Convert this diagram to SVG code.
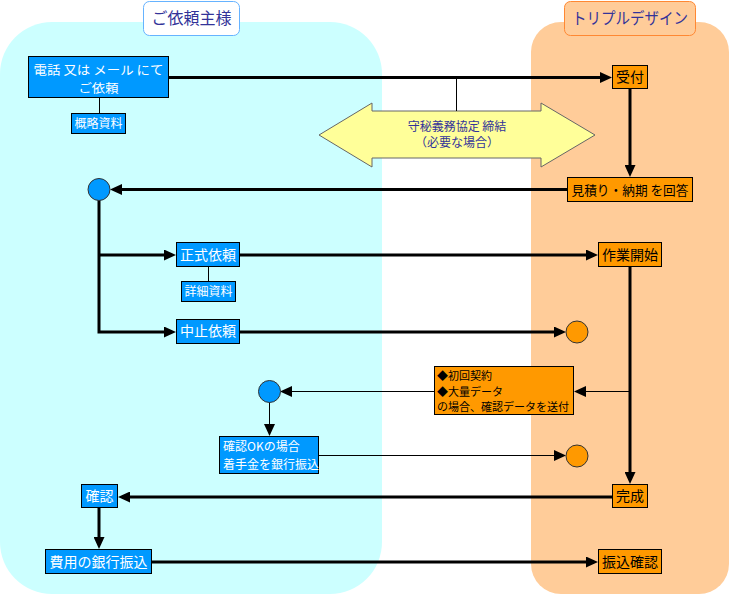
<svg xmlns="http://www.w3.org/2000/svg" width="730" height="596" viewBox="0 0 730 596">
<style>
text{font-family:"Noto Sans CJK JP","Noto Sans CJK SC",sans-serif}
.b{fill:#0099FF;stroke:#000;stroke-width:1}
.o{fill:#FF9900;stroke:#000;stroke-width:1}
.tw{fill:#fff;font-size:14px;text-anchor:middle}
.tws{fill:#fff;font-size:12px;text-anchor:middle}
.tb{fill:#000;font-size:14px;text-anchor:middle}
.th{stroke:#000;stroke-width:3;fill:none}
.tn{stroke:#000;stroke-width:1;fill:none}
.ttl{fill:#333399;font-size:16px;text-anchor:middle}
</style>
<defs>
<marker id="ar" markerUnits="userSpaceOnUse" markerWidth="12" markerHeight="11" refX="8" refY="5.5" orient="auto">
<path d="M0,0 L12,5.5 L0,11 z" fill="#000"/>
</marker>
</defs>
<g id="lane-client">
<rect x="0" y="22" width="382" height="572" rx="52" ry="52" fill="#CCFFFF"/>
<rect x="143.5" y="1.5" width="96" height="34" rx="6" fill="#fff" stroke="#66B3FF" stroke-width="1"/>
<text class="ttl" x="191.5" y="24">ご依頼主様</text>
</g>
<g id="lane-triple">
<rect x="531" y="22" width="198" height="572" rx="30" ry="30" fill="#FFCC99"/>
<rect x="564.5" y="1.5" width="131" height="34" rx="6" fill="#FFCC99" stroke="#FF8833" stroke-width="1"/>
<text class="ttl" x="630" y="24" textLength="116" lengthAdjust="spacingAndGlyphs">トリプルデザイン</text>
</g>
<g id="nda">
<polygon points="319,135 372,103 372,111 541,111 541,103 595,135 541,167 541,158 372,158 372,167" fill="#FFFF99" stroke="#666" stroke-width="1"/>
<text x="457" y="131" font-size="12" fill="#333399" text-anchor="middle">守秘義務協定 締結</text>
<text x="457" y="147" font-size="12" fill="#333399" text-anchor="middle">（必要な場合）</text>
</g>
<g id="connectors">
<path class="th" d="M169,77.5 H608" marker-end="url(#ar)"/>
<path class="tn" d="M456.5,77.5 V111"/>
<path class="tn" d="M99.5,98 V113"/>
<path class="th" d="M630,89 V173" marker-end="url(#ar)"/>
<path class="th" d="M567,189.5 H114" marker-end="url(#ar)"/>
<path class="th" d="M99,200 V332 H172" marker-end="url(#ar)"/>
<path class="th" d="M99,255 H172" marker-end="url(#ar)"/>
<path class="tn" d="M208.5,267 V281"/>
<path class="th" d="M240,255 H594" marker-end="url(#ar)"/>
<path class="th" d="M240,332 H562" marker-end="url(#ar)"/>
<path class="th" d="M630,267 V480" marker-end="url(#ar)"/>
<path class="tn" d="M630,391.5 H578" marker-end="url(#ar)"/>
<path class="tn" d="M434,391.5 H284" marker-end="url(#ar)"/>
<path class="tn" d="M269.5,402 V432" marker-end="url(#ar)"/>
<path class="tn" d="M319,455.5 H562" marker-end="url(#ar)"/>
<path class="th" d="M612,497 H122" marker-end="url(#ar)"/>
<path class="th" d="M99,508 V545" marker-end="url(#ar)"/>
<path class="th" d="M152,562 H594" marker-end="url(#ar)"/>
</g>
<g id="n-request">
<rect class="b" x="28.5" y="56.5" width="140" height="41"/>
<text class="tw" x="98.5" y="74.5" style="font-size:12px" textLength="130" lengthAdjust="spacingAndGlyphs">電話 又は メール にて</text>
<text class="tw" x="98.5" y="92.5" style="font-size:12px" textLength="40" lengthAdjust="spacingAndGlyphs">ご依頼</text>
</g>
<g id="n-gaiyaku">
<rect class="b" x="71.5" y="113.5" width="54" height="20"/>
<text class="tws" x="98.5" y="128">概略資料</text>
</g>
<g id="n-uketsuke">
<rect class="o" x="612.5" y="65.5" width="35" height="23"/>
<text class="tb" x="630" y="82">受付</text>
</g>
<g id="n-mitsumori">
<rect class="o" x="567.5" y="177.5" width="125" height="24"/>
<text class="tb" x="630" y="194.5" style="font-size:13px" textLength="117" lengthAdjust="spacingAndGlyphs">見積り・納期 を回答</text>
</g>
<g id="c-blue1"><circle cx="99" cy="189.5" r="11" fill="#0099FF" stroke="#333" stroke-width="1"/></g>
<g id="n-seishiki">
<rect class="b" x="176.5" y="242.5" width="63" height="24"/>
<text class="tw" x="208" y="259.5">正式依頼</text>
</g>
<g id="n-shousai">
<rect class="b" x="181.5" y="281.5" width="54" height="20"/>
<text class="tws" x="208.5" y="296">詳細資料</text>
</g>
<g id="n-chushi">
<rect class="b" x="176.5" y="319.5" width="63" height="24"/>
<text class="tw" x="208" y="336">中止依頼</text>
</g>
<g id="n-sagyo">
<rect class="o" x="598.5" y="242.5" width="63" height="24"/>
<text class="tb" x="630" y="259.5">作業開始</text>
</g>
<g id="c-orange1"><circle cx="577" cy="332" r="11" fill="#FF9900" stroke="#333" stroke-width="1"/></g>
<g id="n-kakunin-data">
<rect class="o" x="434.5" y="366.5" width="139" height="48"/>
<text x="437" y="380" font-size="11" fill="#000">◆初回契約</text>
<text x="437" y="395.5" font-size="11" fill="#000">◆大量データ</text>
<text x="437" y="411" font-size="11" fill="#000">の場合、確認データを送付</text>
</g>
<g id="c-blue2"><circle cx="269.5" cy="391.5" r="11" fill="#0099FF" stroke="#333" stroke-width="1"/></g>
<g id="n-chakushu">
<rect class="b" x="219.5" y="436.5" width="99" height="37"/>
<text x="223" y="451" font-size="12" fill="#fff">確認OKの場合</text>
<text x="223" y="469" font-size="12" fill="#fff">着手金を銀行振込</text>
</g>
<g id="c-orange2"><circle cx="577" cy="456" r="11" fill="#FF9900" stroke="#333" stroke-width="1"/></g>
<g id="n-kansei">
<rect class="o" x="612.5" y="484.5" width="35" height="23"/>
<text class="tb" x="630" y="501">完成</text>
</g>
<g id="n-kakunin">
<rect class="b" x="81.5" y="484.5" width="36" height="23"/>
<text class="tw" x="99.5" y="501">確認</text>
</g>
<g id="n-hiyou">
<rect class="b" x="45.5" y="549.5" width="106" height="24"/>
<text class="tw" x="98.5" y="566.5">費用の銀行振込</text>
</g>
<g id="n-furikomi">
<rect class="o" x="598.5" y="549.5" width="63" height="24"/>
<text class="tb" x="630" y="566.5">振込確認</text>
</g>
</svg>
